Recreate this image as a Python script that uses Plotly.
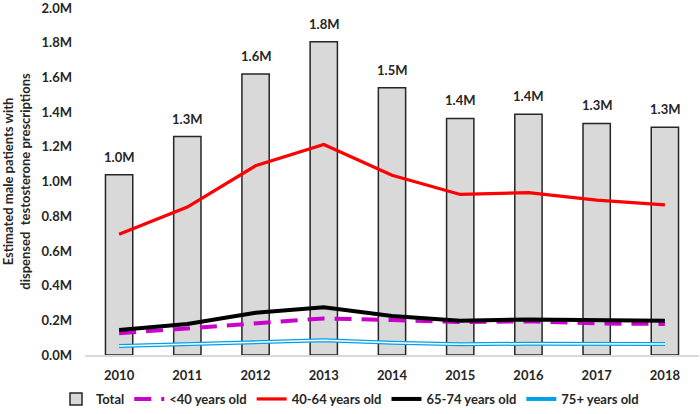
import plotly.graph_objects as go

years = [2010, 2011, 2012, 2013, 2014, 2015, 2016, 2017, 2018]
total = [1.04, 1.26, 1.62, 1.806, 1.541, 1.364, 1.389, 1.335, 1.314]
total_labels = ["1.0M", "1.3M", "1.6M", "1.8M", "1.5M", "1.4M", "1.4M", "1.3M", "1.3M"]
under40 = [0.125, 0.154, 0.186, 0.211, 0.202, 0.190, 0.194, 0.182, 0.179]
age40_64 = [0.696, 0.853, 1.091, 1.214, 1.037, 0.926, 0.936, 0.893, 0.866]
age65_74 = [0.144, 0.179, 0.244, 0.275, 0.225, 0.198, 0.205, 0.202, 0.198]
age75 = [0.052, 0.063, 0.077, 0.085, 0.071, 0.062, 0.065, 0.062, 0.063]
y_ticks = [0, 0.2, 0.4, 0.6, 0.8, 1.0, 1.2, 1.4, 1.6, 1.8, 2.0]
y_tick_labels = ["0.0M", "0.2M", "0.4M", "0.6M", "0.8M", "1.0M", "1.2M", "1.4M", "1.6M", "1.8M", "2.0M"]

FONT = "Lato"
TXT = "#262626"
fig = go.Figure()
fig.add_trace(go.Bar(x=years, y=total, name="Total", width=0.4,
                     marker=dict(color="#d9d9d9", line=dict(color=TXT, width=1.5))))
fig.add_trace(go.Scatter(x=years, y=under40, name="<40 years old", mode="lines",
                         line=dict(color="#cc00cc", width=4, dash="17px,10px")))
fig.add_trace(go.Scatter(x=years, y=age40_64, name="40-64 years old", mode="lines",
                         line=dict(color="#ff0000", width=3.2)))
fig.add_trace(go.Scatter(x=years, y=age65_74, name="65-74 years old", mode="lines",
                         line=dict(color="#000000", width=4)))
fig.add_trace(go.Scatter(x=years, y=age75, name="75+ years old", mode="lines",
                         legendgroup="75", line=dict(color="#00a0e8", width=4)))
fig.add_trace(go.Scatter(x=years, y=age75, name="75+ years old", mode="lines",
                         legendgroup="75", showlegend=False, hoverinfo="skip",
                         line=dict(color="#ffffff", width=1.5)))

for yr, v, lab in zip(years, total, total_labels):
    fig.add_annotation(x=yr, y=v, text=lab, showarrow=False, yanchor="bottom",
                       yshift=8, font=dict(family=FONT, size=13, color=TXT, weight="bold"))

fig.update_layout(
    width=700, height=414,
    margin=dict(l=85, r=1, t=8, b=59),
    plot_bgcolor="white", paper_bgcolor="white",
    font=dict(family=FONT, size=13, color=TXT),
    showlegend=True,
    legend=dict(orientation="h", xref="container", x=0.5, xanchor="center",
                yref="container", y=-0.012, yanchor="bottom",
                font=dict(family=FONT, size=13, color=TXT, weight="bold"),
                itemwidth=30, traceorder="normal"),
)
fig.update_xaxes(range=[2009.5, 2018.5], tickvals=years, showline=True, linecolor="#d9d9d9",
                 linewidth=1.5, showgrid=False, ticks="", zeroline=False, automargin=False,
                 ticklabelstandoff=8,
                 tickfont=dict(family=FONT, size=13, weight="bold", color=TXT))
fig.update_yaxes(range=[0, 2.001], tickvals=y_ticks, ticktext=y_tick_labels, showgrid=False,
                 zeroline=False, showline=False, ticks="", automargin=False,
                 ticklabelstandoff=12, ticklabeloverflow="allow",
                 tickfont=dict(family=FONT, size=13, weight="bold", color=TXT),
                 title=dict(text="Estimated male patients with<br>dispensed  testosterone prescriptions",
                            font=dict(family=FONT, size=13, weight="bold", color=TXT), standoff=8))
fig.write_html("out.html", config={"displayModeBar": False},
               post_script="document.body.style.margin='0';")
